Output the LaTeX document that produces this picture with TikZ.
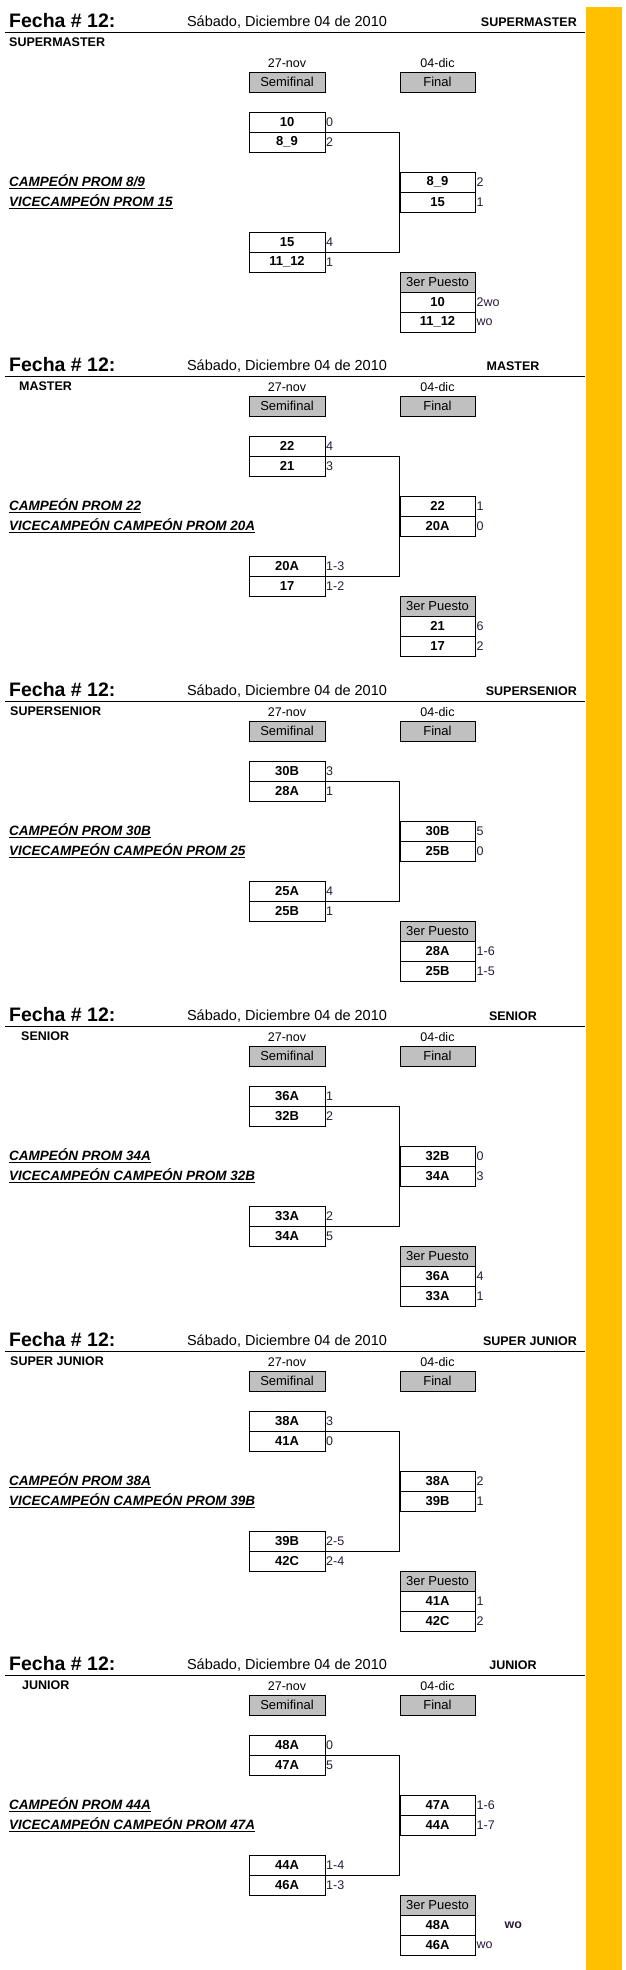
\documentclass[tikz,border=0pt]{standalone}
\usepackage{fontspec}
\setmainfont{Liberation Sans}
\definecolor{barra}{HTML}{FFC000}
\definecolor{celda}{HTML}{C0C0C0}
\definecolor{tanteo}{HTML}{2A1A3A}
\tikzset{
  equipo/.style={draw, minimum width=75.5pt, minimum height=20pt, inner sep=0pt, font=\fontsize{13}{13}\selectfont\bfseries},
  ronda/.style={equipo, fill=celda, font=\fontsize{13}{13}\selectfont},
  marcador/.style={anchor=west, inner sep=1pt, text=tanteo, font=\fontsize{12.5}{12.5}\selectfont},
  fecha/.style={inner sep=0pt, font=\fontsize{12.5}{12.5}\selectfont},
  titulo/.style={inner sep=0pt, font=\fontsize{12.5}{12.5}\selectfont\bfseries},
  campeon/.style={anchor=west, inner sep=0pt, font=\fontsize{13.5}{13.5}\selectfont\bfseries\itshape}
}
\begin{document}
\begin{tikzpicture}[x=1pt, y=-1pt]
  \useasboundingbox (0,0) rectangle (626,1970);
  \fill[barra] (586,7) rectangle (622,1970);
  \foreach \hy/\by/\subt/\subx/\rx/\ranc/\na/\pa/\nb/\pb/\nc/\pc/\nd/\pd/\ne/\pe/\nf/\pf/\ng/\pg/\nh/\ph/\champ/\vice [count=\i] in {
    32/72/SUPERMASTER/9/577/east/10/0/8\_9/2/15/4/11\_12/1/8\_9/2/15/1/10/2wo/11\_12/wo/{CAMPEÓN PROM 8/9}/{VICECAMPEÓN PROM 15},
    376/396/MASTER/19/513/center/22/4/21/3/20A/1-3/17/1-2/22/1/20A/0/21/6/17/2/{CAMPEÓN PROM 22}/{VICECAMPEÓN CAMPEÓN PROM 20A},
    701/721/SUPERSENIOR/10/577/east/30B/3/28A/1/25A/4/25B/1/30B/5/25B/0/28A/1-6/25B/1-5/{CAMPEÓN PROM 30B}/{VICECAMPEÓN CAMPEÓN PROM 25},
    1026/1046/SENIOR/21/513/center/36A/1/32B/2/33A/2/34A/5/32B/0/34A/3/36A/4/33A/1/{CAMPEÓN PROM 34A}/{VICECAMPEÓN CAMPEÓN PROM 32B},
    1351/1371/SUPER JUNIOR/10/577/east/38A/3/41A/0/39B/2-5/42C/2-4/38A/2/39B/1/41A/1/42C/2/{CAMPEÓN PROM 38A}/{VICECAMPEÓN CAMPEÓN PROM 39B},
    1675/1695/JUNIOR/22/513/center/48A/0/47A/5/44A/1-4/46A/1-3/47A/1-6/44A/1-7/48A/{\hspace*{28pt}\textbf{wo}}/46A/wo/{CAMPEÓN PROM 44A}/{VICECAMPEÓN CAMPEÓN PROM 47A}} {
    % encabezado
    \node[anchor=west, inner sep=0pt, font=\fontsize{19.5}{19.5}\selectfont\bfseries] (fe\i) at (9,\hy-11) {Fecha \# 12:};
    \node[fecha, font=\fontsize{14.5}{14.5}\selectfont] (dia\i) at (287,\hy-10) {Sábado, Diciembre 04 de 2010};
    \node[titulo, anchor=\ranc] (cat\i) at (\rx,\hy-10) {\subt};
    \draw[line width=0.8pt] (5,\hy) -- (585,\hy);
    \node[titulo, anchor=west] (sub\i) at (\subx,\hy+10) {\subt};
    % rondas
    \node[fecha] (d1\i) at (287,\by-9) {27-nov};
    \node[fecha] (d2\i) at (437.5,\by-9) {04-dic};
    \node[ronda] (semi\i) at (287,\by+10) {Semifinal};
    \node[ronda] (fin\i) at (437.5,\by+10) {Final};
    \node[equipo] (a\i) at (287,\by+50) {\na};
    \node[equipo] (b\i) at (287,\by+70) {\nb};
    \node[equipo] (c\i) at (287,\by+170) {\nc};
    \node[equipo] (d\i) at (287,\by+190) {\nd};
    \node[equipo] (e\i) at (437.5,\by+110) {\ne};
    \node[equipo] (f\i) at (437.5,\by+130) {\nf};
    \node[ronda] (ter\i) at (437.5,\by+210) {3er Puesto};
    \node[equipo] (g\i) at (437.5,\by+230) {\ng};
    \node[equipo] (h\i) at (437.5,\by+250) {\nh};
    \foreach \n/\p in {a/\pa,b/\pb,c/\pc,d/\pd,e/\pe,f/\pf,g/\pg,h/\ph}
      \node[marcador] at (\n\i.east) {\p};
    % llave
    \draw (b\i.north east) -| (e\i.north west) -- (f\i.south west) |- (c\i.south east);
    \node[campeon] (cp\i) at (9,\by+110) {\underline{\champ}};
    \node[campeon] (vc\i) at (9,\by+130) {\underline{\vice}};
  }
\end{tikzpicture}
\end{document}
